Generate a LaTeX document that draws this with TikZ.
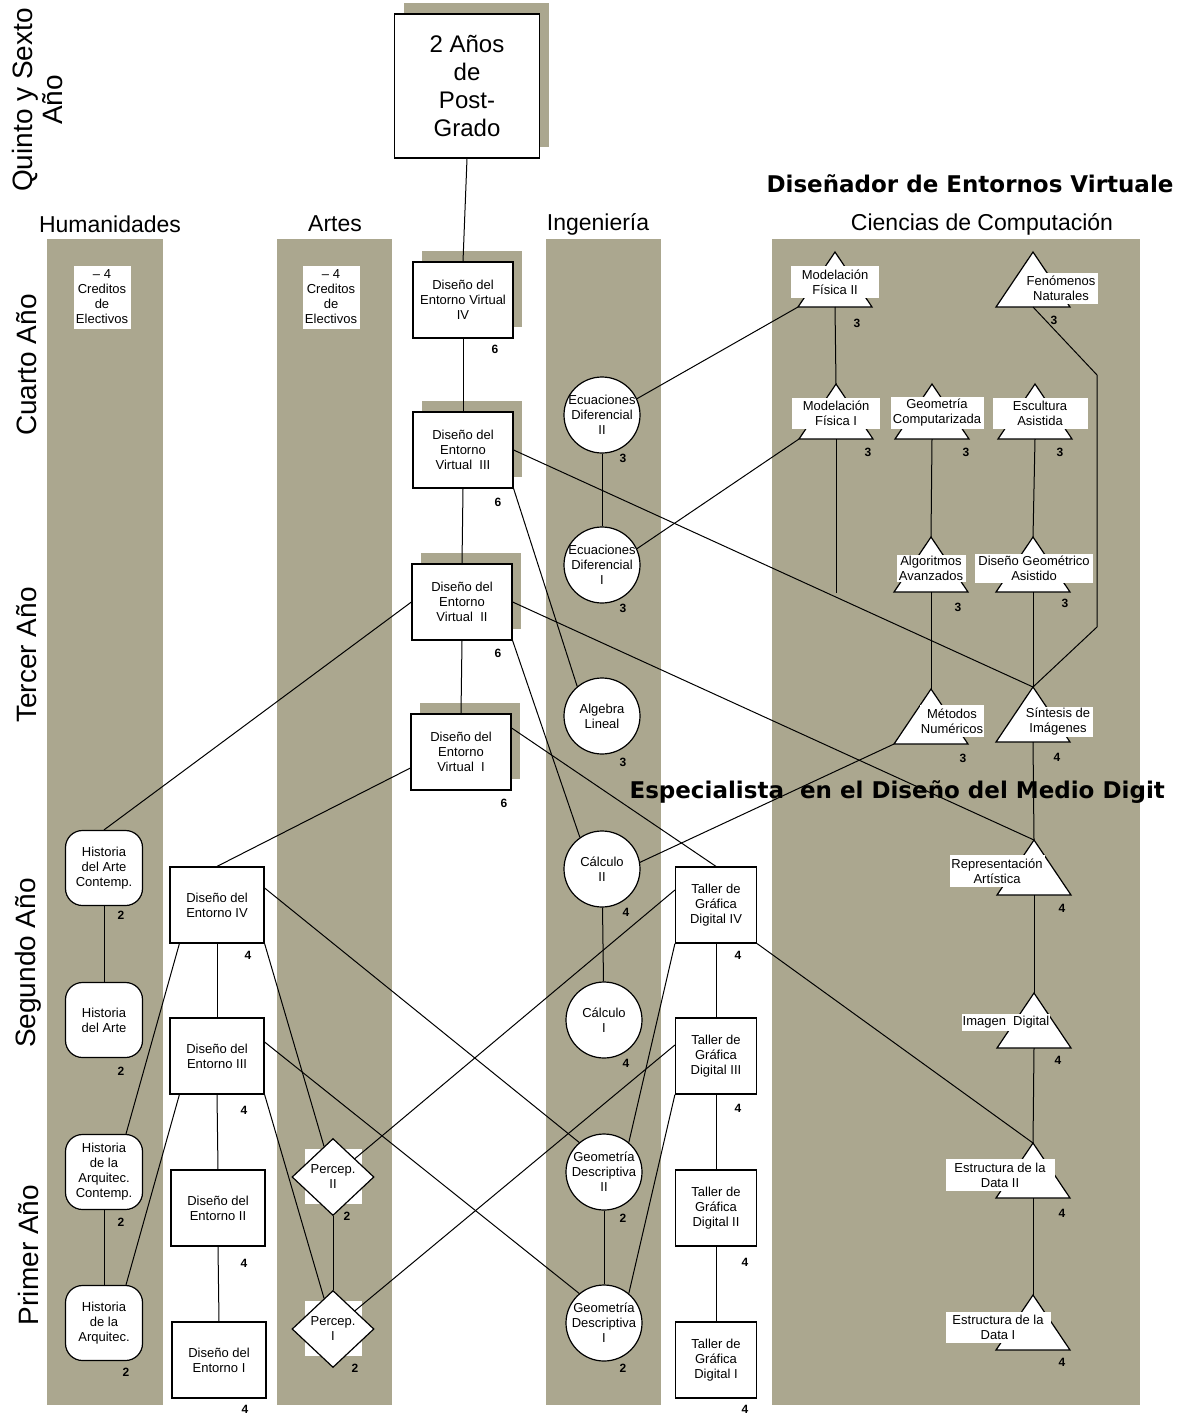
\documentclass[tikz,border=0pt]{standalone}
\usepackage{fontspec}
\setmainfont{Liberation Sans}
\newfontfamily\titulofont{DejaVu Sans}
\usetikzlibrary{shapes.geometric, shadows}
\definecolor{banda}{RGB}{171,167,143}

\tikzset{
  curso/.style={rectangle, draw, fill=white, line width=1.2pt, align=center, inner sep=1pt, font=\fontsize{13}{15}\selectfont},
  sombra/.style={drop shadow={shadow xshift=9pt, shadow yshift=11pt, fill=banda, draw=none, opacity=1}},
  virtual/.style={curso, sombra, minimum width=100, minimum height=76},
  entorno/.style={curso, minimum width=94, minimum height=76},
  taller/.style={curso, minimum width=81, minimum height=76},
  historia/.style={curso, rounded corners=17pt, minimum width=77, minimum height=75},
  circulo/.style={ellipse, draw, fill=white, line width=1.2pt, minimum width=76, minimum height=76, inner sep=0pt},
  rombo/.style={diamond, draw, fill=white, line width=1.2pt, minimum width=82, minimum height=77, inner sep=0pt},
  blanco/.style={fill=white, minimum width=57, minimum height=55, inner sep=0pt},
  texto/.style={align=center, inner sep=0pt, font=\fontsize{13}{15}\selectfont},
  elec/.style={texto, fill=white, inner sep=1pt, minimum width=57, minimum height=63},
  tri/.style={draw, fill=white, line width=1.2pt},
  tritexto/.style={texto, fill=white, inner sep=1pt},
  cred/.style={font=\fontsize{12}{13}\selectfont\bfseries, inner sep=0pt},
  enlace/.style={line width=1pt},
  anio/.style={rotate=90, align=center, font=\fontsize{28}{30}\selectfont},
  area/.style={font=\fontsize{23}{25}\selectfont},
  titulo/.style={anchor=west, font=\titulofont\bfseries\fontsize{23}{25}\selectfont}
}

% triangle: name, apex x, apex y
\newcommand{\triangulo}[3]{%
  \draw[tri] (#2,#3) coordinate (#1) -- ++(37,55) coordinate (#1-r) -- ++(-74,0) coordinate (#1-l) -- cycle;
  \coordinate (#1-m) at (#2,#3+55);}

\begin{document}
\begin{tikzpicture}[x=1pt, y=-1pt]
  \useasboundingbox (0,0) rectangle (1188,1415);

  % Bands
  \fill[banda] (47,239) rectangle (163,1405);
  \fill[banda] (277,239) rectangle (392,1405);
  \fill[banda] (546,239) rectangle (661,1405);
  \fill[banda] (772,239) rectangle (1140,1405);

  % Years
  \node[anio] (quinto) at (37,100) {Quinto y Sexto\\Año};
  \node[anio] (cuarto) at (27,365) {Cuarto Año};
  \node[anio] (tercer) at (27,655) {Tercer Año};
  \node[anio] (segundo) at (28,963) {Segundo Año};
  \node[anio] (primer) at (28,1255) {Primer Año};

  % Areas
  \node[area] (hum) at (110,224) {Humanidades};
  \node[area] (art) at (335,224) {Artes};
  \node[area] (ing) at (598,224) {Ingeniería};
  \node[area] (comp) at (982,224) {Ciencias de Computación};
  \node[titulo] (tdis) at (763,184) {Diseñador de Entornos Virtuale};
  \node[titulo] (tesp) at (626,792) {Especialista\ \ en el Diseño del Medio Digit};

  % Post-grado
  \node[curso, sombra, minimum width=145, minimum height=144, font=\fontsize{24}{28}\selectfont] (pg) at (467,86) {2 Años\\de\\Post-\\Grado};

  % Diseno del Entorno Virtual
  \node[virtual] (dev4) at (463,300) {Diseño del\\Entorno Virtual\\IV};
  \node[cred] (dev4c) at (495,349) {6};
  \node[virtual] (dev3) at (463,450) {Diseño del\\Entorno\\Virtual\ \ III};
  \node[cred] (dev3c) at (498,502) {6};
  \node[virtual] (dev2) at (462,602) {Diseño del\\Entorno\\Virtual\ \ II};
  \node[cred] (dev2c) at (498,653) {6};
  \node[virtual] (dev1) at (461,752) {Diseño del\\Entorno\\Virtual\ \ I};
  \node[cred] (dev1c) at (504,803) {6};

  % Electivos
  \node[elec] (elech) at (102,297) {– 4\\Creditos\\de\\Electivos};
  \node[elec] (eleca) at (331,297) {– 4\\Creditos\\de\\Electivos};

  % Humanidades
  \node[historia] (hac) at (104,868) {Historia\\del Arte\\Contemp.};
  \node[cred] (hacc) at (121,915) {2};
  \node[historia] (ha) at (104,1020) {Historia\\del Arte};
  \node[cred] (hac2) at (121,1071) {2};
  \node[historia] (hqc) at (104,1172) {Historia\\de la\\Arquitec.\\Contemp.};
  \node[cred] (hqcc) at (121,1222) {2};
  \node[historia] (hq) at (104,1323) {Historia\\de la\\Arquitec.};
  \node[cred] (hqc2) at (126,1372) {2};

  % Diseno del Entorno
  \node[entorno] (de4) at (217,905) {Diseño del\\Entorno IV};
  \node[cred] (de4c) at (248,955) {4};
  \node[entorno] (de3) at (217,1056) {Diseño del\\Entorno III};
  \node[cred] (de3c) at (244,1110) {4};
  \node[entorno] (de2) at (218,1208) {Diseño del\\Entorno II};
  \node[cred] (de2c) at (244,1263) {4};
  \node[entorno] (de1) at (219,1360) {Diseño del\\Entorno I};
  \node[cred] (de1c) at (245,1409) {4};

  % Artes
  \node[blanco] (p2b) at (333,1176) {};
  \node[rombo, label={[texto]center:Percep.\\II}] (p2) at (333,1177) {};
  \node[cred] (p2c) at (347,1216) {2};
  \node[blanco] (p1b) at (333,1328) {};
  \node[rombo, label={[texto]center:Percep.\\I}] (p1) at (333,1329) {};
  \node[cred] (p1c) at (355,1368) {2};

  % Ingenieria
  \node[circulo, label={[texto]center:Ecuaciones\\Diferencial\\II}] (ec2) at (602,415) {};
  \node[cred] (ec2c) at (623,458) {3};
  \node[circulo, label={[texto]center:Ecuaciones\\Diferencial\\I}] (ec1) at (602,565) {};
  \node[cred] (ec1c) at (623,608) {3};
  \node[circulo, label={[texto]center:Algebra\\Lineal}] (alg) at (602,716) {};
  \node[cred] (algc) at (623,762) {3};
  \node[circulo, label={[texto]center:Cálculo\\II}] (cal2) at (602,869) {};
  \node[cred] (cal2c) at (626,912) {4};
  \node[circulo, label={[texto]center:Cálculo\\I}] (cal1) at (604,1020) {};
  \node[cred] (cal1c) at (626,1063) {4};
  \node[circulo, label={[texto]center:Geometría\\Descriptiva\\II}] (gd2) at (604,1172) {};
  \node[cred] (gd2c) at (623,1218) {2};
  \node[circulo, label={[texto]center:Geometría\\Descriptiva\\I}] (gd1) at (604,1323) {};
  \node[cred] (gd1c) at (623,1368) {2};

  % Taller de Grafica Digital
  \node[taller] (t4) at (716,905) {Taller de\\Gráfica\\Digital IV};
  \node[cred] (t4c) at (738,955) {4};
  \node[taller] (t3) at (716,1056) {Taller de\\Gráfica\\Digital III};
  \node[cred] (t3c) at (738,1108) {4};
  \node[taller] (t2) at (716,1208) {Taller de\\Gráfica\\Digital II};
  \node[cred] (t2c) at (745,1262) {4};
  \node[taller] (t1) at (716,1360) {Taller de\\Gráfica\\Digital I};
  \node[cred] (t1c) at (745,1409) {4};

  % Ciencias de Computacion
  \triangulo{mf2}{835}{252}
  \node[tritexto, minimum width=88, minimum height=32] (mf2t) at (835,282) {Modelación\\Física II};
  \node[cred] (mf2c) at (857,323) {3};
  \triangulo{fn}{1033}{252}
  \node[tritexto, minimum width=73, minimum height=31] (fnt) at (1061,288) {Fenómenos\\Naturales};
  \node[cred] (fnc) at (1054,320) {3};
  \triangulo{mf1}{836}{384}
  \node[tritexto, minimum width=88, minimum height=31] (mf1t) at (836,413) {Modelación\\Física I};
  \node[cred] (mf1c) at (868,452) {3};
  \triangulo{gc}{932}{384}
  \node[tritexto, minimum width=93, minimum height=32] (gct) at (937,413) {Geometría\\Computarizada};
  \node[cred] (gcc) at (966,452) {3};
  \triangulo{ea}{1035}{384}
  \node[tritexto, minimum width=95, minimum height=31] (eat) at (1040,413) {Escultura\\Asistida};
  \node[cred] (eac) at (1060,452) {3};
  \triangulo{alga}{931}{537}
  \node[tritexto, minimum width=69, minimum height=27] (algat) at (931,568) {Algoritmos\\Avanzados};
  \node[cred] (algac) at (958,607) {3};
  \triangulo{dga}{1033}{537}
  \node[tritexto, minimum width=118, minimum height=29] (dgat) at (1034,568) {Diseño Geométrico\\Asistido};
  \node[cred] (dgac) at (1065,603) {3};
  \triangulo{met}{931}{689}
  \node[tritexto, minimum width=63, minimum height=32] (mett) at (952,721) {Métodos\\Numéricos};
  \node[cred] (metc) at (963,758) {3};
  \triangulo{sint}{1033}{687}
  \node[tritexto, minimum width=70, minimum height=29] (sintt) at (1058,722) {Síntesis de\\Imágenes};
  \node[cred] (sintc) at (1057,757) {4};
  \triangulo{rep}{1034}{840}
  \node[tritexto, minimum width=95, minimum height=32] (rept) at (997,871) {Representación\\Artística};
  \node[cred] (repc) at (1062,908) {4};
  \triangulo{img}{1034}{993}
  \node[tritexto, minimum width=88, minimum height=17] (imgt) at (1006,1022) {Imagen\ \ Digital};
  \node[cred] (imgc) at (1058,1060) {4};
  \triangulo{ed2}{1033}{1143}
  \node[tritexto, minimum width=109, minimum height=32] (ed2t) at (1000,1175) {Estructura de la\\Data II};
  \node[cred] (ed2c) at (1062,1213) {4};
  \triangulo{ed1}{1033}{1295}
  \node[tritexto, minimum width=105, minimum height=31] (ed1t) at (998,1327) {Estructura de la\\Data I};
  \node[cred] (ed1c) at (1062,1362) {4};
  \coordinate (mf1fin) at (836,593);
  \coordinate (fnq1) at (1097,375);
  \coordinate (fnq2) at (1097,627);

  % Connectors
  \draw[enlace] (pg.south) -- (dev4.north);
  \draw[enlace] (dev4.south) -- (dev3.north);
  \draw[enlace] (dev3.south) -- (dev2.north);
  \draw[enlace] (dev2.south) -- (dev1.north);
  \draw[enlace] (dev3.east) -- (sint);
  \draw[enlace] (dev3.south east) -- (alg.130);
  \draw[enlace] (dev2.east) -- (rep);
  \draw[enlace] (dev2.south east) -- (cal2.125);
  \draw[enlace] (dev2.west) -- (hac.north);
  \draw[enlace] ([yshift=-16pt]dev1.west) -- (de4.north);
  \draw[enlace] ([yshift=24pt]dev1.east) -- (t4.north);

  \draw[enlace] (hac) -- (ha);
  \draw[enlace] (hqc) -- (hq);
  \draw[enlace] (de4.south) -- (de3.north);
  \draw[enlace] (de3.south) -- (de2.north);
  \draw[enlace] (de2.south) -- (de1.north);
  \draw[enlace] ([yshift=17pt]de4.east) -- (gd2.130);
  \draw[enlace] ([yshift=14pt]de3.east) -- (gd1.130);
  \draw[enlace] ([xshift=10pt]de4.south west) -- (hqc.60);
  \draw[enlace] ([xshift=10pt]de3.south west) -- (hq.60);
  \draw[enlace] (de4.south east) -- (p2);
  \draw[enlace] (de3.south east) -- (p1);
  \draw[enlace] (p2) -- (p1);

  \draw[enlace] (ec2) -- (ec1);
  \draw[enlace] (cal2) -- (cal1);
  \draw[enlace] (gd2) -- (gd1);
  \draw[enlace] (ec2.25) -- (mf2-l);
  \draw[enlace] (ec1.25) -- (mf1-l);
  \draw[enlace] (met-l) -- (cal2.10);

  \draw[enlace] (t4.south) -- (t3.north);
  \draw[enlace] (t3.south) -- (t2.north);
  \draw[enlace] (t2.south) -- (t1.north);
  \draw[enlace] (t4.south east) -- (ed2);
  \draw[enlace] ([yshift=15pt]t4.west) -- (p2);
  \draw[enlace] ([yshift=11pt]t3.west) -- (p1);
  \draw[enlace] (t4.south west) -- (gd2.50);
  \draw[enlace] (t3.south west) -- (gd1.50);

  \draw[enlace] (mf2-m) -- (mf1);
  \draw[enlace] (mf1-m) -- (mf1fin);
  \draw[enlace] (gc-m) -- (alga);
  \draw[enlace] (ea-m) -- (dga);
  \draw[enlace] (alga-m) -- (met);
  \draw[enlace] (dga-m) -- (sint);
  \draw[enlace] (fn-m) -- (fnq1) -- (fnq2) -- (sint);
  \draw[enlace] (sint-m) -- (rep);
  \draw[enlace] (rep-m) -- (img);
  \draw[enlace] (img-m) -- (ed2);
  \draw[enlace] (ed2-m) -- (ed1);
\end{tikzpicture}
\end{document}
